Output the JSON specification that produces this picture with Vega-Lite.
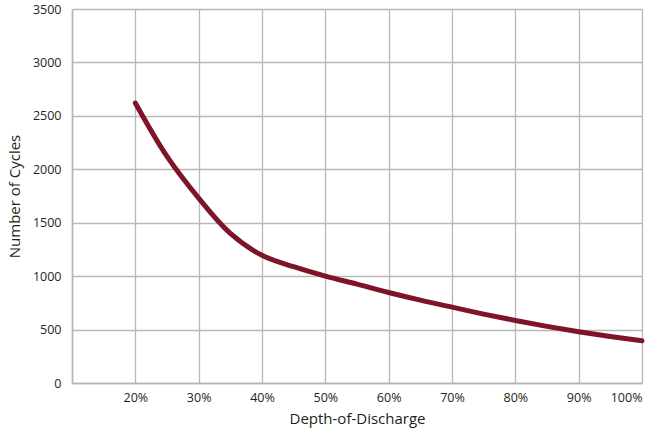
{
  "$schema": "https://vega.github.io/schema/vega-lite/v6.json",
  "autosize": {"type": "none"},
  "padding": {"left": 72, "top": 9, "right": 19, "bottom": 58},
  "width": 570,
  "height": 374,
  "background": "white",
  "config": {
    "view": {"stroke": null},
    "font": "Open Sans"
  },
  "data": {
    "values": [
      {"dod": 20, "cycles": 2620},
      {"dod": 25, "cycles": 2120},
      {"dod": 30, "cycles": 1730},
      {"dod": 35, "cycles": 1400},
      {"dod": 40, "cycles": 1195},
      {"dod": 45, "cycles": 1088},
      {"dod": 50, "cycles": 1000},
      {"dod": 55, "cycles": 925},
      {"dod": 60, "cycles": 847},
      {"dod": 65, "cycles": 775},
      {"dod": 70, "cycles": 710},
      {"dod": 75, "cycles": 645},
      {"dod": 80, "cycles": 585},
      {"dod": 85, "cycles": 530},
      {"dod": 90, "cycles": 480},
      {"dod": 95, "cycles": 435},
      {"dod": 100, "cycles": 395}
    ]
  },
  "mark": {"type": "line", "color": "#7d1428", "strokeWidth": 5, "strokeCap": "round", "interpolate": "catmull-rom"},
  "encoding": {
    "x": {
      "field": "dod",
      "type": "quantitative",
      "scale": {"domain": [10, 100], "nice": false, "zero": false},
      "axis": {
        "values": [10, 20, 30, 40, 50, 60, 70, 80, 90, 100],
        "labelExpr": "datum.value == 10 ? '' : datum.value + '%'",
        "title": "Depth-of-Discharge",
        "titleFont": "Open Sans",
        "titleFontSize": 15,
        "titleFontWeight": "normal",
        "titleColor": "#231f20",
        "titlePadding": 8,
        "labelFontSize": 12.5,
        "labelColor": "#231f20",
        "labelPadding": 8,
        "ticks": false,
        "domainColor": "#b3b3b3",
        "domainWidth": 1.5,
        "gridColor": "#b8b8b8",
        "gridWidth": 1.3
      }
    },
    "y": {
      "field": "cycles",
      "type": "quantitative",
      "scale": {"domain": [0, 3500], "nice": false},
      "axis": {
        "values": [0, 500, 1000, 1500, 2000, 2500, 3000, 3500],
        "format": "d",
        "title": "Number of Cycles",
        "titleFont": "Open Sans",
        "titleFontSize": 15,
        "titleFontWeight": "normal",
        "titleColor": "#231f20",
        "titlePadding": 10,
        "labelFontSize": 12.5,
        "labelColor": "#231f20",
        "labelPadding": 11,
        "ticks": false,
        "domainColor": "#b3b3b3",
        "domainWidth": 1.5,
        "gridColor": "#b8b8b8",
        "gridWidth": 1.3
      }
    }
  }
}
